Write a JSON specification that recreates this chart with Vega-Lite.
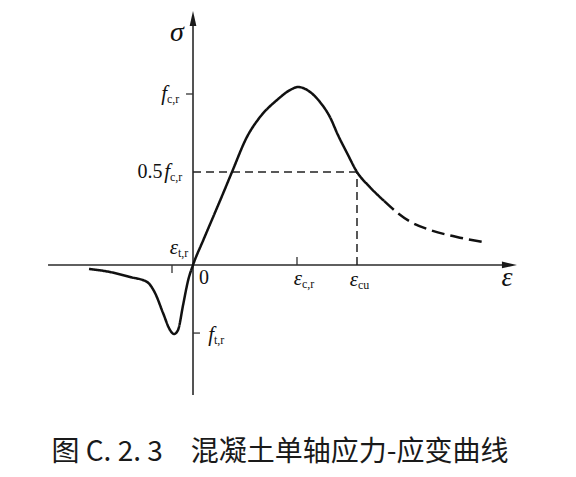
{
  "$schema": "https://vega.github.io/schema/vega-lite/v6.json",
  "width": 576,
  "height": 436,
  "padding": 0,
  "autosize": {"type": "pad"},
  "background": "white",
  "config": {"view": {"stroke": null}},
  "title": {
    "text": "图 C. 2. 3　混凝土单轴应力-应变曲线",
    "orient": "bottom",
    "font": "Noto Sans CJK SC",
    "fontSize": 28,
    "fontWeight": "normal",
    "color": "#1a1a1a",
    "offset": 3,
    "dx": -8,
    "anchor": "middle"
  },
  "datasets": {
    "curve": [
      {"o": 1, "x": -1.0, "y": -0.023, "seg": "solid"},
      {"o": 2, "x": -0.798, "y": -0.041, "seg": "solid"},
      {"o": 3, "x": -0.606, "y": -0.07, "seg": "solid"},
      {"o": 4, "x": -0.442, "y": -0.099, "seg": "solid"},
      {"o": 5, "x": -0.365, "y": -0.164, "seg": "solid"},
      {"o": 6, "x": -0.288, "y": -0.281, "seg": "solid"},
      {"o": 7, "x": -0.221, "y": -0.38, "seg": "solid"},
      {"o": 8, "x": -0.183, "y": -0.404, "seg": "solid"},
      {"o": 9, "x": -0.144, "y": -0.38, "seg": "solid"},
      {"o": 10, "x": -0.096, "y": -0.236, "seg": "solid"},
      {"o": 11, "x": -0.045, "y": -0.085, "seg": "solid"},
      {"o": 12, "x": 0.0, "y": 0.0, "seg": "solid"},
      {"o": 13, "x": 0.1, "y": 0.147, "seg": "solid"},
      {"o": 14, "x": 0.2, "y": 0.29, "seg": "solid"},
      {"o": 15, "x": 0.3, "y": 0.434, "seg": "solid"},
      {"o": 16, "x": 0.375, "y": 0.544, "seg": "solid"},
      {"o": 17, "x": 0.519, "y": 0.749, "seg": "solid"},
      {"o": 18, "x": 0.644, "y": 0.865, "seg": "solid"},
      {"o": 19, "x": 0.808, "y": 0.965, "seg": "solid"},
      {"o": 20, "x": 0.933, "y": 1.023, "seg": "solid"},
      {"o": 21, "x": 1.01, "y": 1.041, "seg": "solid"},
      {"o": 22, "x": 1.125, "y": 1.012, "seg": "solid"},
      {"o": 23, "x": 1.221, "y": 0.953, "seg": "solid"},
      {"o": 24, "x": 1.317, "y": 0.865, "seg": "solid"},
      {"o": 25, "x": 1.394, "y": 0.76, "seg": "solid"},
      {"o": 26, "x": 1.481, "y": 0.655, "seg": "solid"},
      {"o": 27, "x": 1.577, "y": 0.544, "seg": "solid"},
      {"o": 28, "x": 1.702, "y": 0.455, "seg": "solid"},
      {"o": 29, "x": 1.837, "y": 0.375, "seg": "solid"},
      {"o": 30, "x": 1.837, "y": 0.375, "seg": "dashed"},
      {"o": 31, "x": 1.971, "y": 0.303, "seg": "dashed"},
      {"o": 32, "x": 2.087, "y": 0.254, "seg": "dashed"},
      {"o": 33, "x": 2.279, "y": 0.205, "seg": "dashed"},
      {"o": 34, "x": 2.538, "y": 0.164, "seg": "dashed"},
      {"o": 35, "x": 2.779, "y": 0.135, "seg": "dashed"}
    ],
    "axes": [
      {"x": -1.394, "x2": 3.05, "y": 0, "y2": 0},
      {"x": 0, "x2": 0, "y": -0.76, "y2": 1.41}
    ],
    "ticks": [
      {"x": -0.067, "x2": 0, "y": 1.0, "y2": 1.0},
      {"x": -0.202, "x2": -0.202, "y": 0, "y2": -0.047},
      {"x": 0, "x2": 0.067, "y": -0.398, "y2": -0.398},
      {"x": 1.0, "x2": 1.0, "y": 0, "y2": 0.047}
    ],
    "guides": [
      {"x": 0, "x2": 1.577, "y": 0.544, "y2": 0.544},
      {"x": 1.577, "x2": 1.577, "y": 0, "y2": 0.544}
    ],
    "arrows": [
      {"x": 3.043, "y": 0, "dir": "right"},
      {"x": 0, "y": 1.4415, "dir": "up"}
    ],
    "sym": [
      {"t": "σ", "x": -0.154, "y": 1.357},
      {"t": "ε", "x": 3.019, "y": -0.076}
    ],
    "lab": [
      {"main": "f", "sub": "c,r", "x": -0.25, "y": 1.0},
      {"main": "f", "sub": "c,r", "x": -0.221, "y": 0.544},
      {"main": "ε", "sub": "t,r", "x": -0.144, "y": 0.099},
      {"main": "f", "sub": "t,r", "x": 0.202, "y": -0.409},
      {"main": "ε", "sub": "c,r", "x": 1.048, "y": -0.082},
      {"main": "ε", "sub": "cu", "x": 1.587, "y": -0.088}
    ],
    "plain": [
      {"t": "0", "x": 0.106, "y": -0.076},
      {"t": "0.5", "x": -0.413, "y": 0.544}
    ]
  },
  "encoding": {
    "x": {"field": "x", "type": "quantitative", "scale": {"domain": [-1.856, 3.683], "nice": false, "zero": false}, "axis": null},
    "y": {"field": "y", "type": "quantitative", "scale": {"domain": [-1.0, 1.5497], "nice": false, "zero": false}, "axis": null}
  },
  "layer": [
    {
      "data": {"name": "axes"},
      "mark": {"type": "rule", "color": "#2a2a2a", "strokeWidth": 1.6},
      "encoding": {"x2": {"field": "x2"}, "y2": {"field": "y2"}}
    },
    {
      "data": {"name": "ticks"},
      "mark": {"type": "rule", "color": "#333333", "strokeWidth": 1.3},
      "encoding": {"x2": {"field": "x2"}, "y2": {"field": "y2"}}
    },
    {
      "data": {"name": "guides"},
      "mark": {"type": "rule", "color": "#222222", "strokeWidth": 1.5, "strokeDash": [8, 5]},
      "encoding": {"x2": {"field": "x2"}, "y2": {"field": "y2"}}
    },
    {
      "data": {"name": "arrows"},
      "mark": {"type": "point", "filled": true, "color": "#1a1a1a", "opacity": 1, "size": 225},
      "encoding": {
        "shape": {"field": "dir", "type": "nominal", "scale": {"domain": ["right", "up"], "range": ["M-1,-0.45L1,0L-1,0.45Z", "M-0.45,1L0,-1L0.45,1Z"]}, "legend": null}
      }
    },
    {
      "data": {"name": "curve"},
      "mark": {"type": "line", "color": "#111111", "strokeWidth": 2.5, "strokeCap": "butt", "strokeJoin": "round", "interpolate": "monotone"},
      "encoding": {
        "order": {"field": "o", "type": "quantitative"},
        "strokeDash": {"field": "seg", "type": "nominal", "scale": {"domain": ["solid", "dashed"], "range": [[1, 0], [13, 6]]}, "legend": null}
      }
    },
    {
      "data": {"name": "sym"},
      "mark": {"type": "text", "font": "Liberation Serif", "fontStyle": "italic", "fontSize": 28, "align": "center", "baseline": "middle", "color": "#111111"},
      "encoding": {"text": {"field": "t"}}
    },
    {
      "data": {"name": "lab"},
      "mark": {"type": "text", "font": "Liberation Serif", "fontStyle": "italic", "fontSize": 21, "align": "right", "baseline": "middle", "color": "#111111"},
      "encoding": {"text": {"field": "main"}}
    },
    {
      "data": {"name": "lab"},
      "mark": {"type": "text", "font": "Liberation Serif", "fontSize": 12, "align": "left", "baseline": "middle", "dy": 5, "dx": 0, "color": "#111111"},
      "encoding": {"text": {"field": "sub"}}
    },
    {
      "data": {"name": "plain"},
      "mark": {"type": "text", "font": "Liberation Serif", "fontSize": 20, "align": "center", "baseline": "middle", "color": "#111111"},
      "encoding": {"text": {"field": "t"}}
    }
  ]
}
